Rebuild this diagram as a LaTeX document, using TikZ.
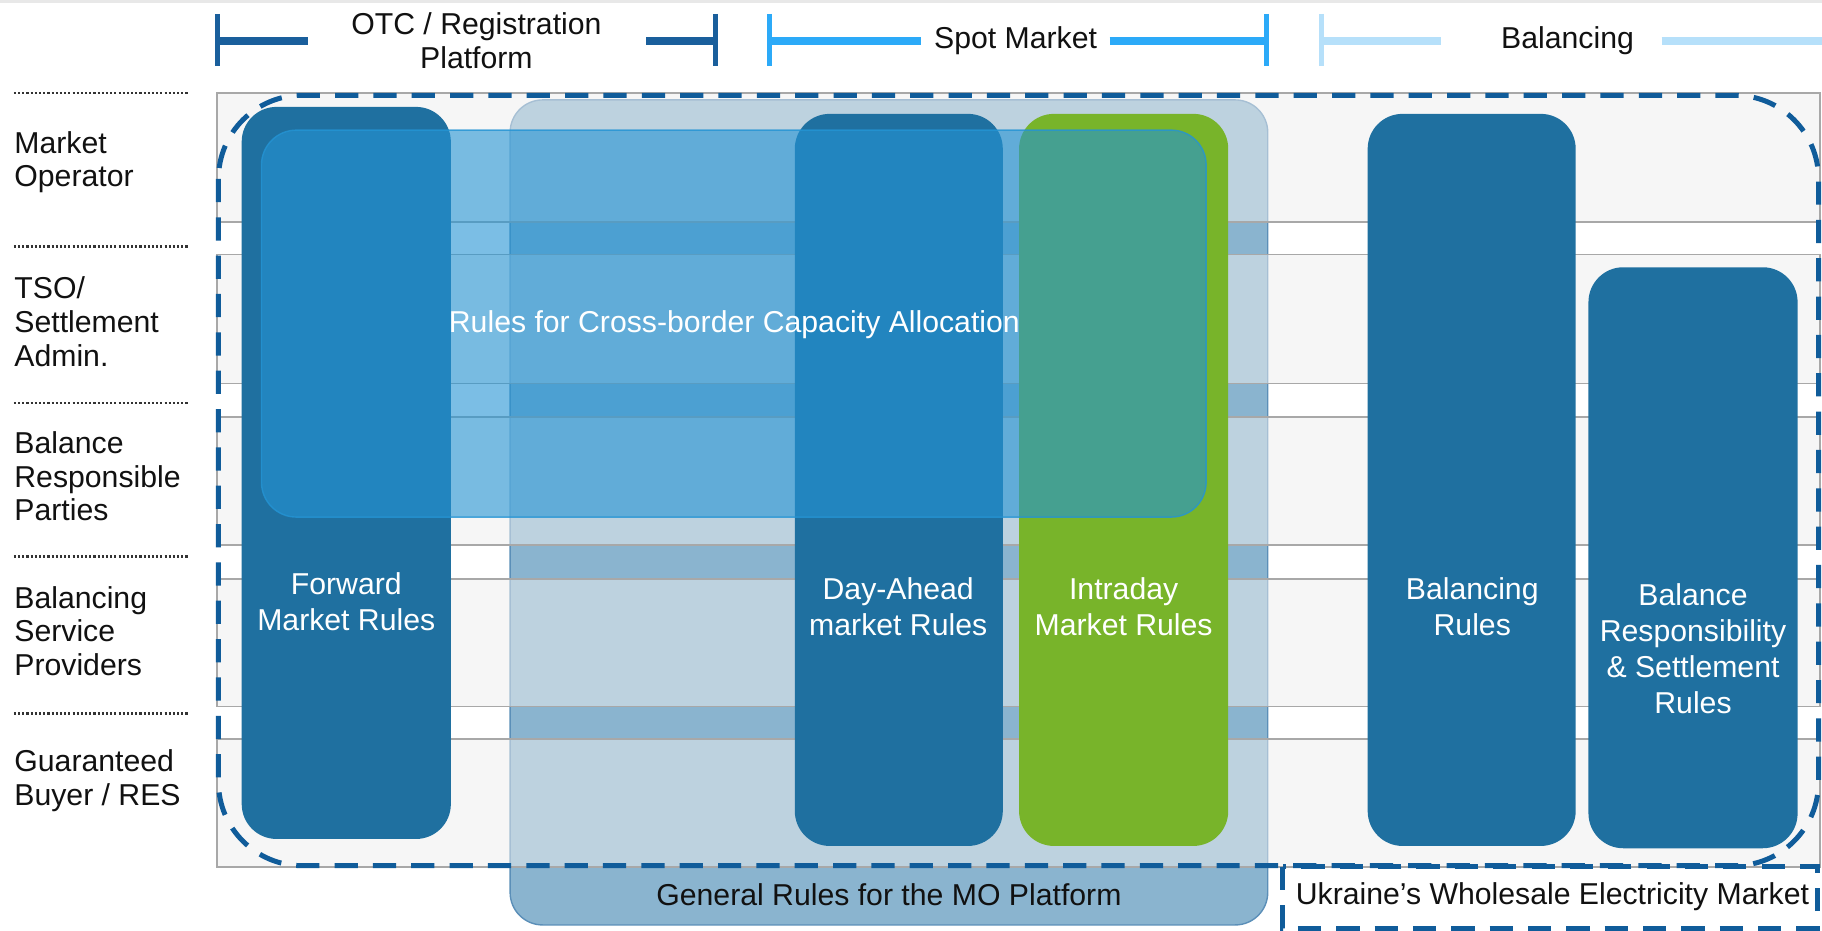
\documentclass[tikz,border=0pt]{standalone}
\usepackage{fontspec}
\setmainfont{Liberation Sans}
\usetikzlibrary{fit}
\definecolor{ruleblue}{HTML}{1F70A0}
\definecolor{rulegreen}{HTML}{78B42A}
\definecolor{genblue}{HTML}{8AB4CF}
\definecolor{genedge}{HTML}{5B8FB8}
\definecolor{xbblue}{HTML}{2494D4}
\definecolor{dashblue}{HTML}{105C9A}
\definecolor{otcblue}{HTML}{1A5F9C}
\definecolor{spotblue}{HTML}{2CAAF8}
\definecolor{balblue}{HTML}{B6E0FA}
\definecolor{rowgray}{HTML}{EFEFEF}
\definecolor{rowedge}{HTML}{A8A8A8}
\definecolor{labeltext}{HTML}{111111}
\begin{document}
\begin{tikzpicture}[x=0.5pt,y=-0.5pt,
  basefont/.style={font=\fontsize{13}{14.5}\selectfont},
  boxfont/.style={font=\fontsize{13}{15.5}\selectfont},
  rowband/.style={fill=rowgray, fill opacity=0.51, draw=rowedge, line width=0.8pt, inner sep=0pt},
  rulebox/.style={fill=ruleblue, draw=none, rounded corners=15pt, inner sep=0pt},
  greenbox/.style={fill=rulegreen, draw=none, rounded corners=15pt, inner sep=0pt},
  genbox/.style={fill=genblue, draw=genedge, line width=0.6pt, rounded corners=14pt, inner sep=0pt},
  xbbox/.style={fill=xbblue, fill opacity=0.6, draw=xbblue, draw opacity=0.8, line width=0.6pt, rounded corners=15pt, inner sep=0pt},
  dashedline/.style={draw=dashblue, line width=2.15pt, dash pattern=on 10pt off 6.5pt},
  tickline/.style={line width=2.2pt},
  barline/.style={line width=3.5pt},
  sepline/.style={draw=black!80, line width=1.1pt, dash pattern=on 0.9pt off 0.9pt},
  lbl/.style={basefont, anchor=west, align=left, text=labeltext, inner sep=0pt},
  boxtext/.style={boxfont, align=center, text=white, inner sep=0pt},
  darktext/.style={basefont, align=center, text=labeltext, inner sep=0pt}
]
\useasboundingbox (0,0) rectangle (1568,801);
\fill[white] (0,0) rectangle (1568,801);
\fill[black!9] (0,0) rectangle (1568,2.5);

% ---------- header brackets ----------
\coordinate (o1) at (187,12); \coordinate (o2) at (187,57);
\coordinate (o3) at (187,35); \coordinate (o4) at (265,35);
\coordinate (o5) at (556,35); \coordinate (o6) at (616,35);
\coordinate (o7) at (616,12); \coordinate (o8) at (616,57);
\draw[otcblue, tickline] (o1) -- (o2);
\draw[otcblue, barline] (o3) -- (o4);
\draw[otcblue, barline] (o5) -- (o6);
\draw[otcblue, tickline] (o7) -- (o8);
\node[darktext, font=\fontsize{13}{15}\selectfont] (hotc) at (410,35) {OTC / Registration\\Platform};

\coordinate (s1) at (662,12); \coordinate (s2) at (662,57);
\coordinate (s3) at (662,35); \coordinate (s4) at (793,35);
\coordinate (s5) at (955,35); \coordinate (s6) at (1090,35);
\coordinate (s7) at (1090,12); \coordinate (s8) at (1090,57);
\draw[spotblue, tickline] (s1) -- (s2);
\draw[spotblue, barline] (s3) -- (s4);
\draw[spotblue, barline] (s5) -- (s6);
\draw[spotblue, tickline] (s7) -- (s8);
\node[darktext] (hspot) at (874,35) {Spot Market};

\coordinate (b1) at (1137,12); \coordinate (b2) at (1137,57);
\coordinate (b3) at (1137,35); \coordinate (b4) at (1240,35);
\coordinate (b5) at (1430,35); \coordinate (b6) at (1568,35);
\draw[balblue, tickline] (b1) -- (b2);
\draw[balblue, barline] (b3) -- (b4);
\draw[balblue, barline] (b5) -- (b6);
\node[darktext] (hbal) at (1349,35) {Balancing};

% ---------- left separators and labels ----------
\foreach \yy/\nm in {80/d1,212/d2,347/d3,479/d4,614/d5}{
  \coordinate (\nm a) at (12,\yy); \coordinate (\nm b) at (162,\yy);
  \draw[sepline] (\nm a) -- (\nm b);
}
\node[lbl] (lmo) at (12,139.5) {Market\\Operator};
\node[lbl] (ltso) at (12,277) {TSO/\\Settlement\\Admin.};
\node[lbl] (lbrp) at (12,410) {Balance\\Responsible\\Parties};
\node[lbl] (lbsp) at (12,543) {Balancing\\Service\\Providers};
\node[lbl] (lgb) at (12,672) {Guaranteed\\Buyer / RES};

% ---------- general rules box (below the rows) ----------
\node[genbox, fit={(439,86) (1091,796)}] (gen) {};
\node[darktext] (gentext) at (765,770) {General Rules for the MO Platform};

% ---------- rows ----------
\node[rowband, fit={(187,80) (1566,191)}] (row1) {};
\node[rowband, fit={(187,219) (1566,330)}] (row2) {};
\node[rowband, fit={(187,359) (1566,469)}] (row3) {};
\node[rowband, fit={(187,498) (1566,608)}] (row4) {};
\node[rowband, fit={(187,636) (1566,746)}] (row5) {};

% ---------- rule boxes ----------
\node[rulebox, fit={(208,92) (388,722)}] (fwd) {};
\node[rulebox, fit={(684,98) (863,728)}] (dam) {};
\node[greenbox, fit={(877,98) (1057,728)}] (idm) {};
\node[rulebox, fit={(1177,98) (1356,728)}] (balr) {};
\node[rulebox, fit={(1367,230) (1547,730)}] (brs) {};

\node[boxtext] (fwdt) at (298,517.5) {Forward\\Market Rules};
\node[boxtext] (damt) at (773,522) {Day-Ahead\\market Rules};
\node[boxtext] (idmt) at (967,522) {Intraday\\Market Rules};
\node[boxtext] (balrt) at (1267,522) {Balancing\\Rules};
\node[boxtext] (brst) at (1457,558) {Balance\\Responsibility\\\& Settlement\\Rules};

% ---------- cross-border box ----------
\node[xbbox, fit={(225,112) (1038,445)}] (xb) {};
\node[boxtext, font=\fontsize{13}{15}\selectfont] (xbt) at (632,279) {Rules for Cross-border Capacity Allocation};

% ---------- Ukraine wholesale market outline ----------
\coordinate (w1) at (188,82); \coordinate (w2) at (1565,745);
\draw[dashedline, rounded corners=36pt] (w1) rectangle (w2);
\coordinate (u1) at (1104,746); \coordinate (u2) at (1564,799);
\draw[dashedline] (u1) rectangle (u2);
\node[darktext] (ukr) at (1336,772) {Ukraine’s Wholesale Electricity Market};
\end{tikzpicture}
\end{document}
